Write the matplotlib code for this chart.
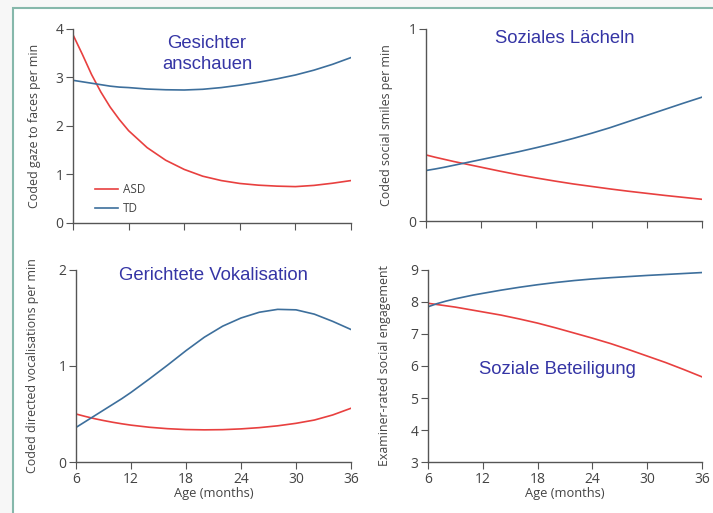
import matplotlib
matplotlib.use("Agg")
import matplotlib.pyplot as plt
from matplotlib.patches import Rectangle

# age in months (monthly early on, where curves bend most)
age = [6, 7, 8, 9, 10, 11, 12, 14, 16, 18, 20, 22, 24, 26, 28, 30, 32, 34, 36]

gaze_asd = [3.88, 3.48, 3.06, 2.70, 2.39, 2.13, 1.90, 1.55, 1.29, 1.10, 0.96,
            0.87, 0.81, 0.775, 0.755, 0.745, 0.77, 0.815, 0.87]
gaze_td = [2.94, 2.91, 2.88, 2.85, 2.82, 2.80, 2.79, 2.76, 2.745, 2.74, 2.755,
           2.79, 2.84, 2.90, 2.97, 3.05, 3.15, 3.27, 3.41]

smile_asd = [0.344, 0.332, 0.321, 0.31, 0.30, 0.29, 0.28, 0.26, 0.241, 0.224, 0.208,
             0.193, 0.18, 0.167, 0.155, 0.144, 0.133, 0.123, 0.113]
smile_td = [0.263, 0.271, 0.28, 0.29, 0.30, 0.31, 0.32, 0.34, 0.36, 0.382, 0.405,
            0.43, 0.457, 0.486, 0.518, 0.55, 0.582, 0.614, 0.645]

voc_asd = [0.50, 0.475, 0.452, 0.432, 0.414, 0.398, 0.384, 0.362, 0.347, 0.338, 0.335,
           0.337, 0.345, 0.358, 0.377, 0.403, 0.437, 0.49, 0.56]
voc_td = [0.36, 0.42, 0.48, 0.54, 0.60, 0.66, 0.725, 0.865, 1.01, 1.16, 1.30,
          1.415, 1.50, 1.56, 1.59, 1.585, 1.54, 1.465, 1.38]

eng_asd = [7.96, 7.92, 7.88, 7.84, 7.79, 7.74, 7.69, 7.59, 7.47, 7.34, 7.19,
           7.03, 6.87, 6.70, 6.51, 6.31, 6.11, 5.89, 5.66]
eng_td = [7.85, 7.95, 8.03, 8.10, 8.16, 8.22, 8.27, 8.37, 8.46, 8.54, 8.61,
          8.67, 8.72, 8.76, 8.795, 8.83, 8.86, 8.89, 8.92]

x_ticks = [6, 12, 18, 24, 30, 36]

RED = "#e8403f"
BLUE = "#3d6f9c"
GRAY = "#555555"
TEXT = "#444444"
TITLE = "#3535a5"

plt.rcParams["font.family"] = ["Open Sans", "DejaVu Sans"]

fig = plt.figure(figsize=(7.13, 5.13), dpi=100)
fig.patch.set_facecolor("#f7f7f7")
fig.patches.append(Rectangle((13 / 713, -0.05), 1.1, 1 - 8 / 513 + 0.05,
                             transform=fig.transFigure, facecolor="white",
                             edgecolor="#86b8ab", linewidth=1.5, zorder=-10))

# rect, asd, td, ylim, yticks, ylabel, ylabel x (axes frac), show x labels
panels = [
    ([0.1024, 0.5659, 0.3899, 0.3776], gaze_asd, gaze_td, (0, 4), [0, 1, 2, 3, 4],
     "Coded gaze to faces per min", -0.115, False),
    ([0.5975, 0.5692, 0.3871, 0.3743], smile_asd, smile_td, (0, 1), [0, 1],
     "Coded social smiles per min", -0.120, False),
    ([0.1066, 0.0994, 0.3857, 0.3743], voc_asd, voc_td, (0, 2), [0, 1, 2],
     "Coded directed vocalisations per min", -0.135, True),
    ([0.6003, 0.0994, 0.3843, 0.3743], eng_asd, eng_td, (3, 9), [3, 4, 5, 6, 7, 8, 9],
     "Examiner-rated social engagement", -0.135, True),
]

axes = []
for rect, asd, td, ylim, yticks, ylabel, ylx, show_x in panels:
    ax = fig.add_axes(rect)
    ax.set_facecolor("none")
    ax.plot(age, asd, color=RED, lw=1.2, label="ASD")
    ax.plot(age, td, color=BLUE, lw=1.2, label="TD")
    ax.set_xlim(6, 36)
    ax.set_ylim(*ylim)
    ax.set_xticks(x_ticks)
    ax.set_yticks(yticks)
    for s in ("top", "right"):
        ax.spines[s].set_visible(False)
    for s in ("left", "bottom"):
        ax.spines[s].set_color(GRAY)
        ax.spines[s].set_linewidth(1.0)
    ax.tick_params(axis="both", length=5, color=GRAY, labelsize=10,
                   labelcolor=TEXT, pad=2)
    ax.set_ylabel(ylabel, fontsize=8.9, color=TEXT)
    ax.yaxis.set_label_coords(ylx, 0.5)
    if show_x:
        ax.set_xlabel("Age (months)", fontsize=9.3, color=TEXT, labelpad=0)
    else:
        ax.set_xticklabels([])
    axes.append(ax)

axes[0].legend(loc="upper left", bbox_to_anchor=(0.04, 0.26), frameon=False,
               fontsize=8.5, handlelength=1.95, handletextpad=0.45,
               labelspacing=0.55, labelcolor=TEXT)

tkw = dict(family=["Liberation Sans", "DejaVu Sans"], color=TITLE, fontsize=13.3,
           ha="center", va="center", transform=fig.transFigure)
fig.text(207 / 713, 1 - 54 / 513, "Gesichter\nanschauen", linespacing=1.25, **tkw)
fig.text(565 / 713, 1 - 39 / 513, "Soziales Lächeln", **tkw)
fig.text(213 / 713, 1 - 276 / 513, "Gerichtete Vokalisation", **tkw)
fig.text(557 / 713, 1 - 370 / 513, "Soziale Beteiligung", **tkw)

fig.savefig("out.png", dpi=100, facecolor=fig.get_facecolor())
